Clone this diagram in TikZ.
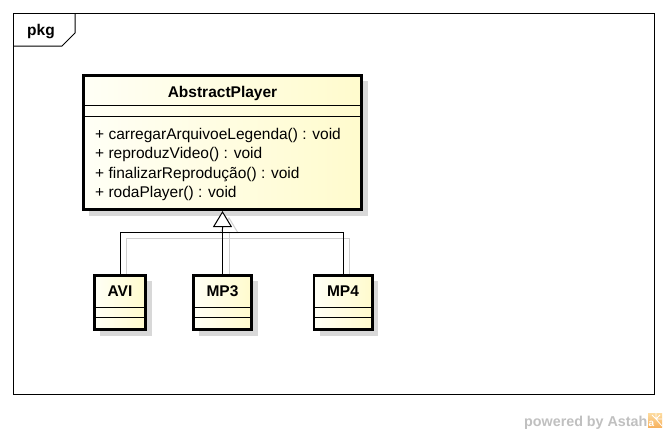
\documentclass[tikz,border=0pt]{standalone}
\usepackage{fontspec}
\setmainfont{Liberation Sans}
\usetikzlibrary{arrows.meta,shadows}
\definecolor{umlfillL}{RGB}{255,255,246}
\definecolor{umlfillR}{RGB}{255,251,205}
\definecolor{shadowgray}{RGB}{216,216,216}
\definecolor{linkshadow}{RGB}{208,208,208}
\definecolor{astahgray}{RGB}{192,192,192}
\definecolor{logoA}{RGB}{253,220,160}
\definecolor{logoB}{RGB}{247,178,95}
\pgfdeclarelayer{bg}
\pgfsetlayers{bg,main}
\begin{document}
\begin{tikzpicture}[x=1pt,y=-1pt,
  every node/.style={font=\fontsize{15.5}{18}\selectfont, inner sep=0pt},
  classbox/.style={draw=black, line width=2.6pt, left color=umlfillL, right color=umlfillR,
    drop shadow={shadow xshift=6pt, shadow yshift=-6pt, fill=shadowgray, opacity=1}},
  sepline/.style={line width=1pt},
  link/.style={line width=1pt, black},
  linkshade/.style={line width=1pt, linkshadow},
  bold/.style={font=\fontsize{15.5}{18}\selectfont\bfseries}]
\useasboundingbox (0,0) rectangle (668,434);
% frame
\draw[line width=1pt] (13,13) rectangle (654,394);
\draw[line width=1pt] (13,46) -- (62,46) -- (75,33) -- (75,13);
\node[bold, anchor=base west] (pkg) at (27,35) {pkg};
% AbstractPlayer
\node[classbox, minimum width=278.4pt, minimum height=134.4pt] (ap) at (222.5,142.5) {};
\node[bold, anchor=base] (apname) at (222.5,97.3) {AbstractPlayer};
\draw[sepline] (83.3,105) -- (361.7,105);
\draw[sepline] (83.3,116) -- (361.7,116);
\node[anchor=base west] (m1) at (95,139) {+ carregarArquivoeLegenda() : void};
\node[anchor=base west] (m2) at (95,158.5) {+ reproduzVideo() : void};
\node[anchor=base west] (m3) at (95,178) {+ finalizarReprodução() : void};
\node[anchor=base west] (m4) at (95,197.5) {+ rodaPlayer() : void};
% subclasses
\node[classbox, minimum width=51.4pt, minimum height=54.4pt] (avi) at (120,302.5) {};
\node[bold, anchor=base] (aviname) at (120,296.7) {AVI};
\draw[sepline] (94.3,307) -- (145.7,307);
\draw[sepline] (94.3,317) -- (145.7,317);
\node[classbox, minimum width=58.4pt, minimum height=54.4pt] (mp3) at (222.5,302.5) {};
\node[bold, anchor=base] (mp3name) at (222.5,296.7) {MP3};
\draw[sepline] (193.3,307) -- (251.7,307);
\draw[sepline] (193.3,317) -- (251.7,317);
\node[classbox, minimum width=58.4pt, minimum height=54.4pt] (mp4) at (343,302.5) {};
\node[bold, anchor=base] (mp4name) at (343,296.7) {MP4};
\draw[sepline] (314.3,307) -- (371.7,307);
\draw[sepline] (314.3,317) -- (371.7,317);
% connectors
\coordinate (junc) at (222.5,232);
\begin{pgfonlayer}{bg}
\fill[white] (0,0) rectangle (668,434);
\draw[linkshade] ([shift={(6.5,6)}]avi.north) |- ([shift={(6.5,6)}]junc);
\draw[linkshade] ([shift={(6.5,6)}]mp4.north) |- ([shift={(6.5,6)}]junc);
\draw[linkshade, -{Triangle[open, width=19pt, length=16pt]}] ([shift={(6.5,6)}]mp3.north) -- ([shift={(6.5,6)}]ap.south);
\end{pgfonlayer}
\draw[link] (avi.north) |- (junc);
\draw[link] (mp4.north) |- (junc);
\draw[link, -{Triangle[open, width=19pt, length=16pt, fill=white]}] (mp3.north) -- (ap.south);
% powered by
\node[anchor=base west, text=astahgray, font=\fontsize{14.3}{17}\selectfont\bfseries] (powered) at (524,426) {powered by Astah};
\shade[top color=logoA, bottom color=logoB] (648,413) rectangle (662,427);
\node[anchor=base west, text=white, font=\fontsize{10}{11}\selectfont\bfseries] (logo) at (648.5,426) {a};
\draw[white, line width=0.8pt] (656,413) -- (656,419) (652,415) -- (656,419) -- (660,415) (656,419) -- (662,419) (656,419) -- (662,426);
\end{tikzpicture}
\end{document}
